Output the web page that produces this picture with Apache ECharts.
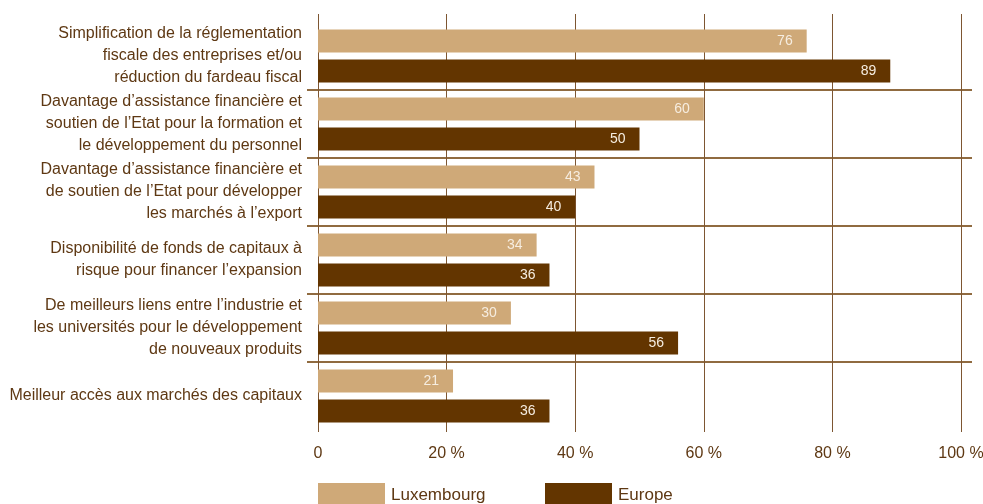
<!DOCTYPE html>
<html>
<head>
<meta charset="utf-8">
<script src="https://cdn.jsdelivr.net/npm/echarts@6/dist/echarts.min.js"></script>
<style>html,body{margin:0;padding:0;background:#fff}#c{width:983px;height:504px}</style>
</head>
<body>
<div id="c"></div>
<script>
const categories = [
  "Simplification de la réglementation\nfiscale des entreprises et/ou\nréduction du fardeau fiscal",
  "Davantage d’assistance financière et\nsoutien de l’Etat pour la formation et\nle développement du personnel",
  "Davantage d’assistance financière et\nde soutien de l’Etat pour développer\nles marchés à l’export",
  "Disponibilité de fonds de capitaux à\nrisque pour financer l’expansion",
  "De meilleurs liens entre l’industrie et\nles universités pour le développement\nde nouveaux produits",
  "Meilleur accès aux marchés des capitaux"
];
const luxembourg = [76, 60, 43, 34, 30, 21];
const europe = [89, 50, 40, 36, 56, 36];
const seriesNames = ["Luxembourg", "Europe"];

const FONT = '"Liberation Sans Narrow", "Arial Narrow", "Liberation Sans", sans-serif';
const TXT = '#5e3813';
const LIGHT = '#cfa978';
const DARK = '#633500';

const chart = echarts.init(document.getElementById('c'), null, {renderer: 'canvas'});
const valLabel = {
  show: true, position: 'insideRight', distance: 14,
  color: '#f6ede0', fontSize: 14, fontFamily: FONT
};
const gridBase = {containLabel: false, outerBoundsMode: 'none'};
chart.setOption({
  animation: false,
  textStyle: {fontFamily: FONT},
  grid: [
    Object.assign({left: 318, right: 22, top: 22, height: 408}, gridBase),
    Object.assign({left: 307, right: 11, top: 22, height: 408}, gridBase),
    Object.assign({left: 318, right: 22, top: 14, height: 418}, gridBase)
  ],
  xAxis: [
    {gridIndex: 0, type: 'value', min: 0, max: 100, interval: 20, show: false},
    {gridIndex: 1, type: 'value', min: 0, max: 100, show: false},
    {gridIndex: 2, type: 'value', min: 0, max: 100, interval: 20,
      axisLine: {show: false}, axisTick: {show: false},
      axisLabel: {margin: 14, color: TXT, fontSize: 16, fontFamily: FONT,
        formatter: v => v === 0 ? '0' : v + ' %'},
      splitLine: {show: true, lineStyle: {color: '#7d5632', width: 1}}}
  ],
  yAxis: [
    {gridIndex: 0, type: 'category', data: categories, inverse: true,
      axisLine: {show: false}, axisTick: {show: false}, splitLine: {show: false},
      axisLabel: {margin: 16, color: TXT, fontSize: 16, lineHeight: 22, fontFamily: FONT, align: 'right'}},
    {gridIndex: 1, type: 'category', data: categories, inverse: true,
      axisLine: {show: false}, axisTick: {show: false}, axisLabel: {show: false},
      splitLine: {show: true, showMinLine: false, showMaxLine: false,
        lineStyle: {color: '#6b3a00', width: 1.5}}},
    {gridIndex: 2, type: 'value', show: false}
  ],
  legend: [
    {data: [seriesNames[0]], left: 313, top: 478, itemWidth: 67, itemHeight: 24, itemGap: 0,
      icon: 'rect', textStyle: {color: TXT, fontSize: 17, fontFamily: FONT, padding: [0,0,0,1]}},
    {data: [seriesNames[1]], left: 540, top: 478, itemWidth: 67, itemHeight: 24, itemGap: 0,
      icon: 'rect', textStyle: {color: TXT, fontSize: 17, fontFamily: FONT, padding: [0,0,0,1]}}
  ],
  series: [
    {name: seriesNames[0], type: 'bar', xAxisIndex: 0, yAxisIndex: 0, data: luxembourg,
      barWidth: 23, barGap: '30%', itemStyle: {color: LIGHT}, label: valLabel},
    {name: seriesNames[1], type: 'bar', xAxisIndex: 0, yAxisIndex: 0, data: europe,
      barWidth: 23, barGap: '30%', itemStyle: {color: DARK}, label: valLabel}
  ]
});
</script>
</body>
</html>
